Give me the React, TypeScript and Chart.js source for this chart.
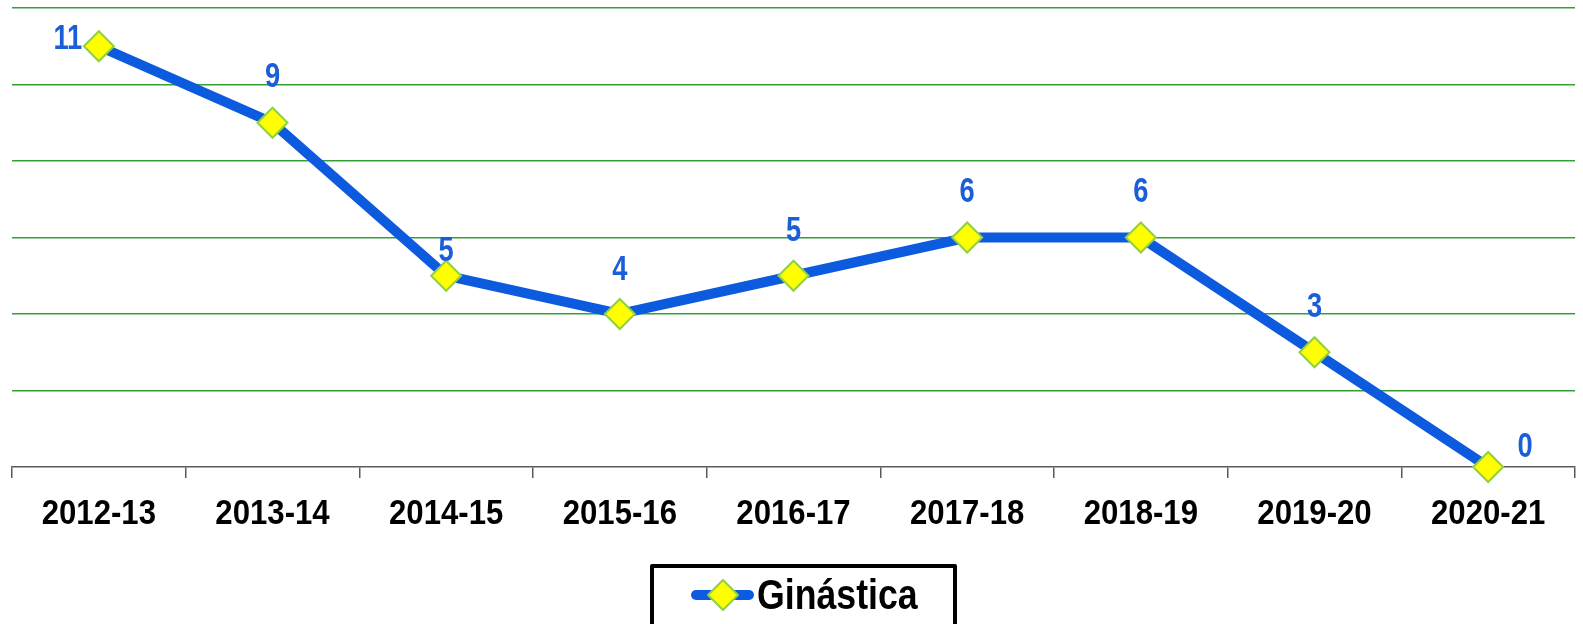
import { useEffect, useRef } from 'react';
import { Chart, registerables } from 'chart.js';

Chart.register(...registerables);

const SEASONS = ['2012-13', '2013-14', '2014-15', '2015-16', '2016-17', '2017-18', '2018-19', '2019-20', '2020-21'];
const GINASTICA = [11, 9, 5, 4, 5, 6, 6, 3, 0];
const SERIES_LABEL = 'Ginástica';
const Y_MIN = 0;
const Y_MAX = 12;
const Y_STEP = 2;

// label placement (pixel offsets from each marker), styling only
const LABEL_OFFSETS: [number, number][] = [
  [-31, -10], [0, -48], [0, -27], [0, -47], [0, -47], [0, -48], [0, -48], [0, -48], [37, -23],
];

const FONT = "'Liberation Sans', Arial, sans-serif";
const LINE_BLUE = '#0c5ade';
const TEXT_BLUE = '#1a5ed8';
const MARKER_FILL = '#ffff00';
const MARKER_EDGE = '#92cf45';
const GRID_GREEN = '#34a034';
const AXIS_GREY = '#5a5a5a';

if (typeof document !== 'undefined') {
  document.body.style.margin = '0';
}

function drawCondensed(ctx: any, text: string, x: number, y: number, sx: number, align: 'center' | 'left') {
  ctx.save();
  ctx.translate(x, y);
  ctx.scale(sx, 1);
  ctx.textAlign = align;
  ctx.textBaseline = 'alphabetic';
  ctx.fillText(text, 0, 0);
  ctx.restore();
}

const valueLabels = {
  id: 'valueLabels',
  afterDatasetsDraw(chart: any) {
    const ctx = chart.ctx;
    const meta = chart.getDatasetMeta(0);
    const data = chart.data.datasets[0].data;
    ctx.save();
    ctx.font = `bold 35px ${FONT}`;
    ctx.fillStyle = TEXT_BLUE;
    meta.data.forEach((pt: any, i: number) => {
      const [dx, dy] = LABEL_OFFSETS[i] || [0, -48];
      drawCondensed(ctx, String(data[i]), pt.x + dx, pt.y + dy + 12.5, 0.78, 'center');
    });
    ctx.restore();
  },
};

const categoryLabels = {
  id: 'categoryLabels',
  afterDraw(chart: any) {
    const ctx = chart.ctx;
    const xs = chart.scales.x;
    ctx.save();
    ctx.font = `bold 35px ${FONT}`;
    ctx.fillStyle = '#000';
    (chart.data.labels as string[]).forEach((lab, i) => {
      drawCondensed(ctx, lab, xs.getPixelForValue(i), 524, 0.89, 'center');
    });
    ctx.restore();
  },
};

const boxedLegend = {
  id: 'boxedLegend',
  afterDraw(chart: any) {
    const ctx = chart.ctx;
    const label = chart.data.datasets[0].label;
    ctx.save();
    ctx.strokeStyle = '#000';
    ctx.lineWidth = 4;
    ctx.lineJoin = 'round';
    ctx.strokeRect(652, 566, 303, 80);
    ctx.strokeStyle = LINE_BLUE;
    ctx.lineWidth = 10;
    ctx.lineCap = 'round';
    ctx.beginPath();
    ctx.moveTo(696, 595);
    ctx.lineTo(749, 595);
    ctx.stroke();
    const cx = 723, cy = 595, r = 15;
    ctx.beginPath();
    ctx.moveTo(cx, cy - r);
    ctx.lineTo(cx + r, cy);
    ctx.lineTo(cx, cy + r);
    ctx.lineTo(cx - r, cy);
    ctx.closePath();
    ctx.fillStyle = MARKER_FILL;
    ctx.fill();
    ctx.lineWidth = 2;
    ctx.lineCap = 'butt';
    ctx.strokeStyle = MARKER_EDGE;
    ctx.stroke();
    ctx.fillStyle = '#000';
    ctx.font = `bold 42px ${FONT}`;
    drawCondensed(ctx, label, 757, 609, 0.85, 'left');
    ctx.restore();
  },
};

export default function App() {
  const canvasRef = useRef<HTMLCanvasElement | null>(null);

  useEffect(() => {
    if (!canvasRef.current) return;
    const chart = new Chart(canvasRef.current, {
      type: 'line',
      data: {
        labels: SEASONS,
        datasets: [
          {
            label: SERIES_LABEL,
            data: GINASTICA,
            borderColor: LINE_BLUE,
            borderWidth: 10,
            tension: 0,
            pointStyle: 'rectRot',
            pointRadius: 15,
            pointHoverRadius: 15,
            pointBackgroundColor: MARKER_FILL,
            pointBorderColor: MARKER_EDGE,
            pointBorderWidth: 2,
            clip: false as any,
          },
        ],
      },
      options: {
        responsive: false,
        animation: false,
        devicePixelRatio: 1,
        layout: { autoPadding: false, padding: { left: 12, right: 8, top: 8, bottom: 0 } },
        plugins: {
          legend: { display: false },
          tooltip: { enabled: false },
        },
        scales: {
          x: {
            offset: true,
            grid: {
              offset: true,
              drawOnChartArea: false,
              drawTicks: true,
              tickLength: 11,
              color: AXIS_GREY,
              lineWidth: 1.5,
            },
            border: { display: true, color: AXIS_GREY, width: 1.5 },
            ticks: { display: false, autoSkip: false },
            afterFit: (scale: any) => {
              scale.height = 157;
            },
          },
          y: {
            min: Y_MIN,
            max: Y_MAX,
            ticks: { display: false, stepSize: Y_STEP },
            grid: {
              drawTicks: false,
              color: (c: any) => (c.tick && c.tick.value === 0 ? 'rgba(0,0,0,0)' : GRID_GREEN),
              lineWidth: 1.5,
            },
            border: { display: false },
            afterFit: (scale: any) => {
              scale.width = 0;
            },
          },
        },
      },
      plugins: [valueLabels, categoryLabels, boxedLegend],
    });
    return () => chart.destroy();
  }, []);

  return (
    <div style={{ width: 1583, height: 624, overflow: 'hidden' }}>
      <canvas ref={canvasRef} width={1583} height={624} style={{ display: 'block' }} />
    </div>
  );
}
